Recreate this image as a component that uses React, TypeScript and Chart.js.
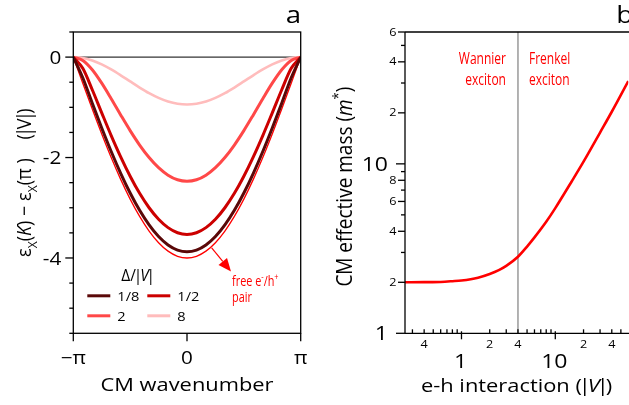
import React, { useEffect, useRef } from 'react';
import { Chart, registerables } from 'chart.js';

Chart.register(...registerables);

const FONT = '"Open Sans", "Noto Sans", sans-serif';
const SX = 1.15; // horizontal stretch of the reference typography
const SX_COND = 0.75; // condensed red annotations

// ---------------- Panel a data ----------------
const K_OVER_PI = [-1, -0.9167, -0.8333, -0.75, -0.6667, -0.5833, -0.5, -0.4167, -0.3333, -0.25, -0.1667, -0.0833, 0, 0.0833, 0.1667, 0.25, 0.3333, 0.4167, 0.5, 0.5833, 0.6667, 0.75, 0.8333, 0.9167, 1];
const E_D1_8 = [0, -0.412, -0.918, -1.411, -1.879, -2.313, -2.706, -3.051, -3.341, -3.573, -3.741, -3.843, -3.877, -3.843, -3.741, -3.573, -3.341, -3.051, -2.706, -2.313, -1.879, -1.411, -0.918, -0.412, 0];
const E_D1_2 = [0, -0.223, -0.65, -1.11, -1.562, -1.986, -2.372, -2.713, -3.0, -3.229, -3.396, -3.497, -3.531, -3.497, -3.396, -3.229, -3.0, -2.713, -2.372, -1.986, -1.562, -1.11, -0.65, -0.223, 0];
const E_D2 = [0, -0.067, -0.252, -0.519, -0.828, -1.151, -1.464, -1.751, -2.0, -2.202, -2.351, -2.442, -2.472, -2.442, -2.351, -2.202, -2.0, -1.751, -1.464, -1.151, -0.828, -0.519, -0.252, -0.067, 0];
const E_D8 = [0, -0.017, -0.067, -0.145, -0.246, -0.362, -0.485, -0.606, -0.718, -0.812, -0.884, -0.929, -0.944, -0.929, -0.884, -0.812, -0.718, -0.606, -0.485, -0.362, -0.246, -0.145, -0.067, -0.017, 0];
const E_FREE = [0, -0.522, -1.035, -1.531, -2.0, -2.435, -2.828, -3.173, -3.464, -3.696, -3.864, -3.966, -4.0, -3.966, -3.864, -3.696, -3.464, -3.173, -2.828, -2.435, -2.0, -1.531, -1.035, -0.522, 0];
const LEGEND_LABELS = ['1/8', '1/2', '2', '8'];
const SERIES_A = [E_D1_8, E_D1_2, E_D2, E_D8];
const COLORS_A = ['#5a0808', '#cc0000', '#ff4848', '#ffbcbc'];
const WIDTHS_A = [3, 3, 3, 2.6];
const FREE_COLOR = '#ff0000';
const Y_TICKS_A = [0.5, 0, -0.5, -1, -1.5, -2, -2.5, -3, -3.5, -4, -4.5, -5, -5.5];
const Y_LABELS_A = ['', '0', '', '', '', '-2', '', '', '', '-4', '', '', ''];
const X_TICKS_A = [-1, 0, 1];
const X_LABELS_A = ['\u2212\u03c0', '0', '\u03c0'];
// annotation anchors in data units (K/pi, energy)
const ARROW_FROM = [0.217, -3.8];
const ARROW_TO = [0.387, -4.27];
const FREE_TEXT_AT = [0.396, -4.56];
const PAIR_TEXT_AT = [0.396, -4.87];

// ---------------- Panel b data ----------------
const V_VALUES = [0.25, 0.4, 0.6, 0.8, 1, 1.5, 2, 2.5, 3, 4, 5, 6, 8, 10, 15, 20, 30, 40, 60];
const MASS = [2.0, 2.004, 2.01, 2.03, 2.05, 2.13, 2.24, 2.36, 2.5, 2.83, 3.25, 3.68, 4.55, 5.48, 7.9, 10.3, 15.3, 20.3, 30.8];
const BOUNDARY_V = 4;
const M_TICKS = [1, 2, 3, 4, 5, 6, 7, 8, 9, 10, 20, 30, 40, 50, 60];
const M_LABELS = ['1', '2', '', '4', '', '6', '', '8', '', '10', '2', '', '4', '', '6'];
const V_TICKS = [0.3, 0.4, 0.5, 0.6, 0.7, 0.8, 0.9, 1, 2, 3, 4, 5, 6, 7, 8, 9, 10, 20, 30, 40, 50];
const V_LABELS = ['', '4', '', '', '', '', '', '1', '2', '', '4', '', '', '', '', '', '10', '2', '', '4', ''];

// ---------------- text helpers ----------------
type Seg = { t: string; it?: boolean; sub?: boolean; sup?: boolean; narrow?: boolean };
type TOpts = {
  size: number;
  align?: 'left' | 'center' | 'right';
  baseline?: CanvasTextBaseline;
  color?: string;
  sx?: number;
  rotate?: boolean;
};

function segFont(sg: Seg, size: number) {
  const s = sg.sub || sg.sup ? size * 0.68 : size;
  return `${sg.it ? 'italic ' : ''}${s}px ${FONT}`;
}

function segAdvance(ctx: CanvasRenderingContext2D, sg: Seg) {
  const w = ctx.measureText(sg.t).width;
  return sg.narrow ? w * 0.5 : w;
}

function drawRich(ctx: CanvasRenderingContext2D, segs: Seg[], x: number, y: number, o: TOpts) {
  ctx.save();
  ctx.translate(x, y);
  const sx = o.sx ?? SX;
  if (o.rotate) {
    ctx.rotate(-Math.PI / 2);
    ctx.scale(1, sx);
  } else {
    ctx.scale(sx, 1);
  }
  let w = 0;
  for (const sg of segs) {
    ctx.font = segFont(sg, o.size);
    w += segAdvance(ctx, sg);
  }
  let cx = o.align === 'left' ? 0 : o.align === 'right' ? -w : -w / 2;
  ctx.fillStyle = o.color ?? '#000';
  ctx.textAlign = 'left';
  ctx.textBaseline = o.baseline ?? 'alphabetic';
  for (const sg of segs) {
    ctx.font = segFont(sg, o.size);
    const dy = sg.sub ? o.size * 0.3 : sg.sup ? -o.size * 0.42 : 0;
    const full = ctx.measureText(sg.t).width;
    const adv = segAdvance(ctx, sg);
    ctx.fillText(sg.t, cx - (full - adv) / 2, dy);
    cx += adv;
  }
  ctx.restore();
}

function txt(ctx: CanvasRenderingContext2D, s: string, x: number, y: number, o: TOpts) {
  drawRich(ctx, [{ t: s }], x, y, o);
}

function seg(ctx: CanvasRenderingContext2D, x1: number, y1: number, x2: number, y2: number) {
  ctx.beginPath();
  ctx.moveTo(x1, y1);
  ctx.lineTo(x2, y2);
  ctx.stroke();
}

// ---------------- plugins ----------------
const panelA = {
  id: 'panelA',
  beforeDatasetsDraw(chart: any) {
    const { ctx, chartArea: a, scales } = chart;
    const y0 = scales.y.getPixelForValue(0);
    ctx.save();
    ctx.strokeStyle = '#000';
    ctx.lineWidth = 1;
    seg(ctx, a.left, y0, a.right, y0);
    ctx.restore();
  },
  afterDraw(chart: any) {
    const { ctx, chartArea: a, scales } = chart;
    const xs = scales.x;
    const ys = scales.y;
    ctx.save();
    ctx.strokeStyle = '#000';
    ctx.lineWidth = 1.3;
    ctx.strokeRect(a.left, a.top, a.right - a.left, a.bottom - a.top);
    // y ticks
    Y_TICKS_A.forEach((v, i) => {
      const py = ys.getPixelForValue(v);
      const lab = Y_LABELS_A[i];
      seg(ctx, a.left - (lab ? 8 : 4), py, a.left, py);
      if (lab) txt(ctx, lab, a.left - 12, py + 1.5, { size: 18, align: 'right', baseline: 'middle' });
    });
    // x ticks
    X_TICKS_A.forEach((v, i) => {
      const px = xs.getPixelForValue(v);
      seg(ctx, px, a.bottom, px, a.bottom + 8);
      txt(ctx, X_LABELS_A[i], px, a.bottom + 31, { size: 18, align: 'center' });
    });
    // axis titles
    txt(ctx, 'CM wavenumber', (a.left + a.right) / 2, 391, { size: 19, align: 'center' });
    drawRich(
      ctx,
      [
        { t: '\u03b5' },
        { t: 'X', sub: true },
        { t: '(' },
        { t: 'K', it: true },
        { t: ') \u2212 \u03b5' },
        { t: 'X', sub: true },
        { t: '(\u03c0 )    (' },
        { t: '|', narrow: true },
        { t: 'V' },
        { t: '|', narrow: true },
        { t: ')' },
      ],
      31,
      (a.top + a.bottom) / 2,
      { size: 18, align: 'center', rotate: true, sx: 1.1 }
    );
    // panel label
    txt(ctx, 'a', a.right - 15, 23, { size: 24, align: 'left' });

    // legend
    const datasets = chart.data.datasets;
    const lx = [a.left + 14, a.left + 74];
    const ly = [a.bottom - 37.5, a.bottom - 17.5];
    drawRich(
      ctx,
      [{ t: '\u0394/' }, { t: '|', narrow: true }, { t: 'V', it: true }, { t: '|', narrow: true }],
      a.left + 48,
      a.bottom - 52,
      { size: 15.5, align: 'left', sx: 1.0 }
    );
    LEGEND_LABELS.forEach((lab, i) => {
      const ds = datasets[i];
      const x = lx[i % 2];
      const y = ly[Math.floor(i / 2)];
      ctx.strokeStyle = ds.borderColor;
      ctx.lineWidth = 3;
      seg(ctx, x, y, x + 23, y);
      txt(ctx, lab, x + 30, y + 1, { size: 13.5, align: 'left', baseline: 'middle', sx: 1.08 });
    });

    // free pair annotation
    const fx = xs.getPixelForValue(ARROW_FROM[0]);
    const fy = ys.getPixelForValue(ARROW_FROM[1]);
    const tx = xs.getPixelForValue(ARROW_TO[0]);
    const ty = ys.getPixelForValue(ARROW_TO[1]);
    const ang = Math.atan2(ty - fy, tx - fx);
    const hl = 13;
    const hw = 5.5;
    const bx = tx - hl * Math.cos(ang);
    const by = ty - hl * Math.sin(ang);
    ctx.strokeStyle = FREE_COLOR;
    ctx.fillStyle = FREE_COLOR;
    ctx.lineWidth = 1.2;
    seg(ctx, fx, fy, bx, by);
    ctx.beginPath();
    ctx.moveTo(tx, ty);
    ctx.lineTo(bx + hw * Math.sin(ang), by - hw * Math.cos(ang));
    ctx.lineTo(bx - hw * Math.sin(ang), by + hw * Math.cos(ang));
    ctx.closePath();
    ctx.fill();
    drawRich(
      ctx,
      [{ t: 'free e' }, { t: '-', sup: true }, { t: '/h' }, { t: '+', sup: true }],
      xs.getPixelForValue(FREE_TEXT_AT[0]),
      ys.getPixelForValue(FREE_TEXT_AT[1]),
      { size: 14.5, align: 'left', color: FREE_COLOR, sx: SX_COND }
    );
    txt(ctx, 'pair', xs.getPixelForValue(PAIR_TEXT_AT[0]), ys.getPixelForValue(PAIR_TEXT_AT[1]), {
      size: 14.5,
      align: 'left',
      color: FREE_COLOR,
      sx: SX_COND,
    });
    ctx.restore();
  },
};

const panelB = {
  id: 'panelB',
  afterDraw(chart: any) {
    const { ctx, chartArea: a, scales } = chart;
    const xs = scales.x;
    const ys = scales.y;
    ctx.save();
    ctx.strokeStyle = '#000';
    ctx.lineWidth = 1.3;
    seg(ctx, a.left, a.top, a.left, a.bottom);
    seg(ctx, a.left, a.bottom, a.right + 2, a.bottom);
    seg(ctx, a.left, a.top, a.right + 2, a.top);
    // y ticks
    M_TICKS.forEach((v, i) => {
      const py = ys.getPixelForValue(v);
      const lab = M_LABELS[i];
      const major = Number.isInteger(Math.log10(v));
      const len = major ? 9 : lab ? 7 : 4;
      seg(ctx, a.left - len, py, a.left, py);
      if (lab) {
        if (major) txt(ctx, lab, a.left - 17, py + 1, { size: 20, align: 'right', baseline: 'middle' });
        else txt(ctx, lab, a.left - 8.5, py + 0.5, { size: 11, align: 'right', baseline: 'middle' });
      }
    });
    // x ticks
    V_TICKS.forEach((v, i) => {
      const px = xs.getPixelForValue(v);
      const lab = V_LABELS[i];
      const major = Number.isInteger(Math.log10(v));
      if (major) seg(ctx, px, a.bottom - 2, px, a.bottom + 6);
      else seg(ctx, px, a.bottom, px, a.bottom - 4);
      if (lab) {
        if (major) txt(ctx, lab, px - 1, a.bottom + 34.5, { size: 20, align: 'center' });
        else txt(ctx, lab, px, a.bottom + 15, { size: 11, align: 'center' });
      }
    });
    // titles
    drawRich(
      ctx,
      [{ t: 'e-h interaction (' }, { t: '|', narrow: true }, { t: 'V', it: true }, { t: '|', narrow: true }, { t: ')' }],
      (a.left + a.right) / 2,
      391.5,
      { size: 19, align: 'center' }
    );
    drawRich(ctx, [{ t: 'CM effective mass (' }, { t: 'm', it: true }, { t: '*', sup: true }, { t: ')' }], 352, (a.top + a.bottom) / 2 + 4, {
      size: 19,
      align: 'center',
      rotate: true,
      sx: 1.1,
    });
    txt(ctx, 'b', a.right - 12, 23, { size: 24, align: 'left' });
    // regime labels
    const bxp = xs.getPixelForValue(BOUNDARY_V);
    const red = '#ff0000';
    txt(ctx, 'Wannier', bxp - 12, a.top + 31.5, { size: 16, align: 'right', color: red, sx: SX_COND });
    txt(ctx, 'exciton', bxp - 12, a.top + 53, { size: 16, align: 'right', color: red, sx: SX_COND });
    txt(ctx, 'Frenkel', bxp + 11, a.top + 31.5, { size: 16, align: 'left', color: red, sx: SX_COND });
    txt(ctx, 'exciton', bxp + 11, a.top + 53, { size: 16, align: 'left', color: red, sx: SX_COND });
    ctx.restore();
  },
};

const W = 629;
const H = 405;
const TOP = 32;
const BOTTOM_AXIS_H = H - 333.3;

function hiddenAxis(extra: any) {
  return {
    display: true,
    ticks: { display: false },
    grid: { display: false },
    border: { display: false },
    ...extra,
  };
}

export default function App() {
  const refA = useRef<HTMLCanvasElement>(null);
  const refB = useRef<HTMLCanvasElement>(null);

  useEffect(() => {
    const dsA: any[] = LEGEND_LABELS.map((lab, i) => ({
      label: lab,
      data: K_OVER_PI.map((k, j) => ({ x: k, y: SERIES_A[i][j] })),
      borderColor: COLORS_A[i],
      borderWidth: WIDTHS_A[i],
      pointRadius: 0,
      fill: false,
      cubicInterpolationMode: 'monotone',
      order: i + 1,
    }));
    dsA.push({
      label: 'free e-/h+ pair',
      data: K_OVER_PI.map((k, j) => ({ x: k, y: E_FREE[j] })),
      borderColor: FREE_COLOR,
      borderWidth: 1.3,
      pointRadius: 0,
      fill: false,
      cubicInterpolationMode: 'monotone',
      order: 10,
    });

    const chartA = new Chart(refA.current as HTMLCanvasElement, {
      type: 'line',
      data: { datasets: dsA },
      options: {
        responsive: false,
        animation: false,
        events: [],
        layout: { padding: { left: 0, top: TOP, right: W - 300.7, bottom: 0 } },
        plugins: { legend: { display: false }, tooltip: { enabled: false } },
        scales: {
          x: hiddenAxis({
            type: 'linear',
            min: -1,
            max: 1,
            afterFit: (s: any) => {
              s.height = BOTTOM_AXIS_H;
            },
          }),
          y: hiddenAxis({
            type: 'linear',
            min: -5.5,
            max: 0.5,
            afterFit: (s: any) => {
              s.width = 73.3;
            },
          }),
        },
      } as any,
      plugins: [panelA],
    });

    const chartB = new Chart(refB.current as HTMLCanvasElement, {
      type: 'line',
      data: {
        datasets: [
          {
            label: 'CM effective mass',
            data: V_VALUES.map((v, i) => ({ x: v, y: MASS[i] })),
            borderColor: '#ff0000',
            borderWidth: 2.6,
            pointRadius: 0,
            fill: false,
            cubicInterpolationMode: 'monotone',
            order: 0,
          },
          {
            label: 'boundary',
            data: [
              { x: BOUNDARY_V, y: 1 },
              { x: BOUNDARY_V, y: 60 },
            ],
            borderColor: '#a0a0a0',
            borderWidth: 1.6,
            pointRadius: 0,
            fill: false,
            order: 1,
          },
        ],
      },
      options: {
        responsive: false,
        animation: false,
        events: [],
        layout: { padding: { left: 0, top: TOP, right: W - 628.3, bottom: 0 } },
        plugins: { legend: { display: false }, tooltip: { enabled: false } },
        scales: {
          x: hiddenAxis({
            type: 'logarithmic',
            min: 0.25,
            max: 60,
            afterFit: (s: any) => {
              s.height = BOTTOM_AXIS_H;
            },
          }),
          y: hiddenAxis({
            type: 'logarithmic',
            min: 1,
            max: 60,
            afterFit: (s: any) => {
              s.width = 405;
            },
          }),
        },
      } as any,
      plugins: [panelB],
    });

    return () => {
      chartA.destroy();
      chartB.destroy();
    };
  }, []);

  return (
    <div style={{ position: 'absolute', left: 0, top: 0, width: W, height: H, background: '#fff', overflow: 'hidden' }}>
      <canvas ref={refA} width={W} height={H} style={{ position: 'absolute', left: 0, top: 0 }} />
      <canvas ref={refB} width={W} height={H} style={{ position: 'absolute', left: 0, top: 0 }} />
    </div>
  );
}
